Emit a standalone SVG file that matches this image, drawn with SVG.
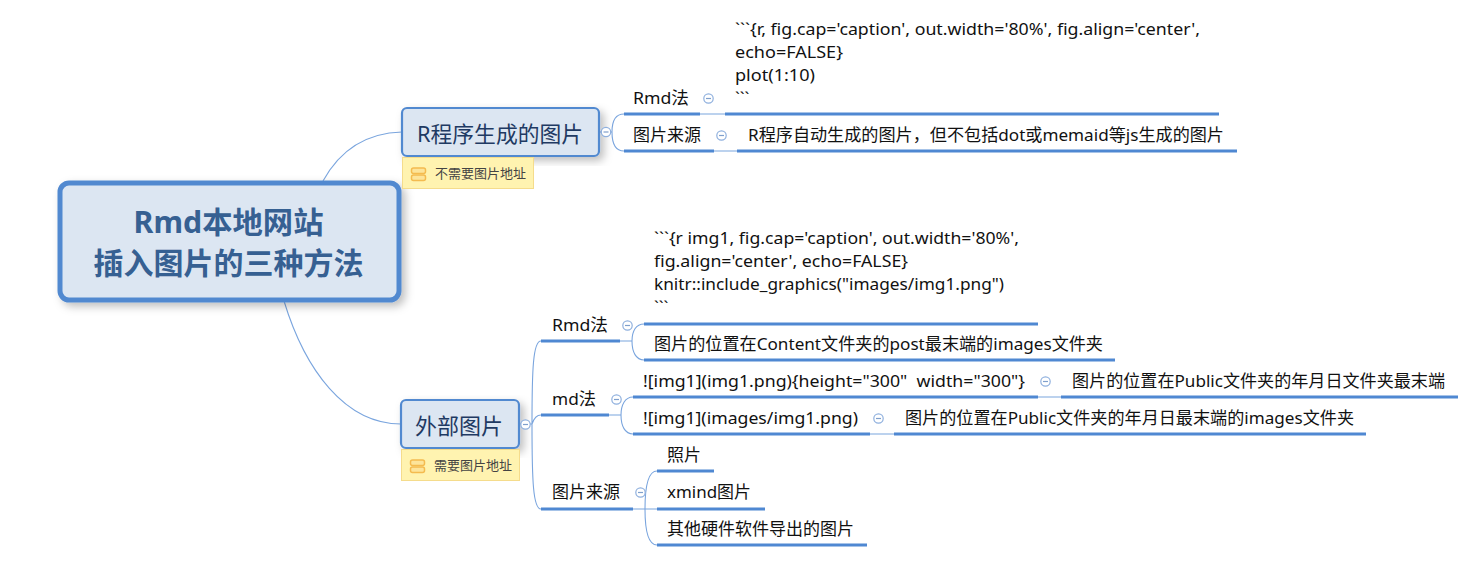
<svg xmlns="http://www.w3.org/2000/svg" width="1466" height="577" viewBox="0 0 1466 577">
<style>
text{font-family:"Noto Sans","Noto Sans CJK SC",sans-serif;fill:#111;font-size:17px;white-space:pre}
.thin{fill:none;stroke:#7aa5de;stroke-width:1.1}
.thick{fill:none;stroke:#4f88d2;stroke-width:3}
.node{fill:#dce6f2;stroke:#5189d0}
.col{fill:#fff;stroke:#8fb0de;stroke-width:1.2}
.colm{stroke:#7f9fcc;stroke-width:1.2}
.note{fill:#fff3b0;stroke:#f5dc8c}
.nt{font-size:13px;fill:#444}
.sec{font-size:22px;fill:#1f3a63;text-anchor:middle}
.main{font-size:30px;font-weight:bold;fill:#366092;text-anchor:middle}
.ic{fill:#fde49a;stroke:#f4bb4f;stroke-width:1.5}
</style>
<defs>
<filter id="sh" x="-10%" y="-10%" width="125%" height="130%"><feDropShadow dx="4" dy="4" stdDeviation="4" flood-color="#000" flood-opacity="0.25"/></filter>
<g id="minus"><circle r="4.700" class="col"/><path d="M-2.500 0H2.500" class="colm"/></g>
</defs>
<rect width="1466" height="577" fill="#fff"/>
<g id="connectors">
<path class="thin" d="M323 181C340 150 365 133 402 132"/>
<path class="thin" d="M284 301C305 370 345 424 401 424"/>
<path class="thin" d="M600 132H604M608 132H612C612 120 616 114 624 114M612 132C612 144 616 151 624 151"/>
<path class="thin" d="M700 114H725M714 151H737"/>
<path class="thick" d="M624 114H700M725 114H1219M624 151H714M737 151H1237"/>
<path class="thin" d="M519 424H523M528 424H532C532 370 533 341 541 341M532 424C534 418 537 415 541 415M532 424C532 480 533 509 541 509"/>
<path class="thick" d="M541 341H620M541 415H609M541 509H633"/>
<path class="thin" d="M620 341H632C632 331 636 324 644 324M632 341C632 352 636 360 644 360M609 415H621C621 405 625 397 633 397M621 415C621 426 625 434 633 434M633 509H645C645 485 649 471 657 471M645 509H657M645 509C645 533 649 545 657 545"/>
<path class="thick" d="M644 324H1038M644 360H1115M633 397H1038M1061 397H1458M633 434H870M894 434H1366M657 471H714M657 509H765M657 545H867"/>
<path class="thin" d="M1038 397H1061M870 434H894"/>
</g>
<g id="root">
<rect x="60" y="183" width="339" height="117" rx="9" class="node" stroke-width="5" filter="url(#sh)"/>
<text x="228.500" y="233" class="main" textLength="190" lengthAdjust="spacingAndGlyphs">Rmd本地网站</text>
<text x="228.500" y="274" class="main" textLength="270" lengthAdjust="spacingAndGlyphs">插入图片的三种方法</text>
</g>
<g id="n-r">
<rect x="402" y="108" width="197" height="48" rx="5" class="node" stroke-width="2.200" filter="url(#sh)"/>
<text x="500" y="142" class="sec" textLength="166" lengthAdjust="spacingAndGlyphs">R程序生成的图片</text>
<use href="#minus" x="606" y="132"/>
</g>
<g id="note-r">
<rect x="402.500" y="157.500" width="131" height="31" class="note"/>
<rect x="411.500" y="168" width="14" height="5.500" rx="2" class="ic"/><rect x="411.500" y="175" width="14" height="5.500" rx="2" class="ic"/>
<text x="435" y="178" class="nt">不需要图片地址</text>
</g>
<g id="n-ext">
<rect x="401" y="400" width="118" height="48" rx="5" class="node" stroke-width="2.200" filter="url(#sh)"/>
<text x="459" y="434" class="sec">外部图片</text>
<use href="#minus" x="525.500" y="424.500"/>
</g>
<g id="note-ext">
<rect x="401.500" y="449.500" width="118" height="31" class="note"/>
<rect x="410.500" y="460" width="14" height="5.500" rx="2" class="ic"/><rect x="410.500" y="467" width="14" height="5.500" rx="2" class="ic"/>
<text x="434" y="470" class="nt">需要图片地址</text>
</g>
<g id="r-rmd"><text x="633" y="104" textLength="56" lengthAdjust="spacingAndGlyphs">Rmd法</text><use href="#minus" x="708.500" y="98.500"/></g>
<g id="r-src"><text x="633" y="141">图片来源</text><use href="#minus" x="721.500" y="135.500"/></g>
<g id="r-code">
<text x="735" y="35" textLength="465" lengthAdjust="spacingAndGlyphs">```{r, fig.cap='caption', out.width='80%', fig.align='center',</text>
<text x="735" y="58" textLength="108" lengthAdjust="spacingAndGlyphs">echo=FALSE}</text>
<text x="735" y="81" textLength="80" lengthAdjust="spacingAndGlyphs">plot(1:10)</text>
<text x="735" y="104">```</text>
</g>
<g id="r-desc"><text x="748" y="141" textLength="476" lengthAdjust="spacingAndGlyphs">R程序自动生成的图片，但不包括dot或memaid等js生成的图片</text></g>
<g id="e-rmd"><text x="552" y="331" textLength="56" lengthAdjust="spacingAndGlyphs">Rmd法</text><use href="#minus" x="627.500" y="325.500"/></g>
<g id="e-md"><text x="552" y="405" textLength="44" lengthAdjust="spacingAndGlyphs">md法</text><use href="#minus" x="616.500" y="399.500"/></g>
<g id="e-src"><text x="552" y="498">图片来源</text><use href="#minus" x="640.500" y="492.500"/></g>
<g id="e-code">
<text x="654" y="244" textLength="365" lengthAdjust="spacingAndGlyphs">```{r img1, fig.cap='caption', out.width='80%',</text>
<text x="654" y="267" textLength="254" lengthAdjust="spacingAndGlyphs">fig.align='center', echo=FALSE}</text>
<text x="654" y="290" textLength="350" lengthAdjust="spacingAndGlyphs">knitr::include_graphics("images/img1.png")</text>
<text x="654" y="313">```</text>
</g>
<g id="e-loc"><text x="654" y="350" textLength="449" lengthAdjust="spacingAndGlyphs">图片的位置在Content文件夹的post最末端的images文件夹</text></g>
<g id="md1"><text x="643" y="387" textLength="382" lengthAdjust="spacingAndGlyphs">![img1](img1.png){height="300"  width="300"}</text><use href="#minus" x="1045.500" y="381.500"/></g>
<g id="md1d"><text x="1072" y="387" textLength="373" lengthAdjust="spacingAndGlyphs">图片的位置在Public文件夹的年月日文件夹最末端</text></g>
<g id="md2"><text x="643" y="424" textLength="215" lengthAdjust="spacingAndGlyphs">![img1](images/img1.png)</text><use href="#minus" x="878.500" y="418.500"/></g>
<g id="md2d"><text x="905" y="424" textLength="449" lengthAdjust="spacingAndGlyphs">图片的位置在Public文件夹的年月日最末端的images文件夹</text></g>
<g id="s1"><text x="667" y="461">照片</text></g>
<g id="s2"><text x="667" y="498" textLength="84" lengthAdjust="spacingAndGlyphs">xmind图片</text></g>
<g id="s3"><text x="667" y="535">其他硬件软件导出的图片</text></g>
</svg>
